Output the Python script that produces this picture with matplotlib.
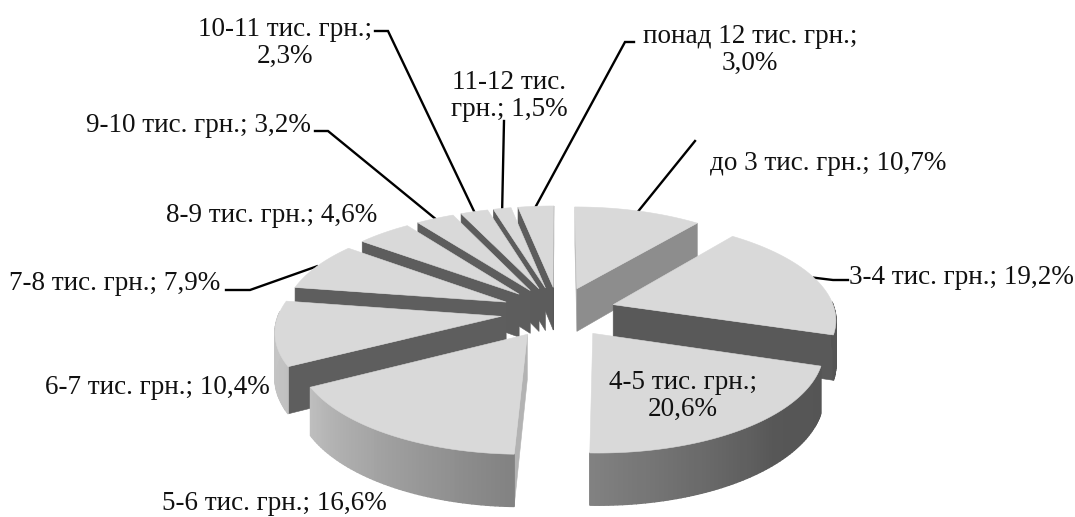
import numpy as np
import matplotlib
matplotlib.use("Agg")
import matplotlib.pyplot as plt
from matplotlib.patches import Polygon

plt.rcParams['font.family'] = ['Liberation Serif', 'DejaVu Serif']

# Income bands and their shares, per cent
bands = ["до 3 тис. грн.", "3-4 тис. грн.", "4-5 тис. грн.", "5-6 тис. грн.",
         "6-7 тис. грн.", "7-8 тис. грн.", "8-9 тис. грн.", "9-10 тис. грн.",
         "10-11 тис. грн.", "11-12 тис. грн.", "понад 12 тис. грн."]
shares = [10.7, 19.2, 20.6, 16.6, 10.4, 7.9, 4.6, 3.2, 2.3, 1.5, 3.0]

label_texts = ["до 3 тис. грн.; 10,7%", "3-4 тис. грн.; 19,2%", "4-5 тис. грн.;\n20,6%",
               "5-6 тис. грн.; 16,6%", "6-7 тис. грн.; 10,4%", "7-8 тис. грн.; 7,9%",
               "8-9 тис. грн.; 4,6%", "9-10 тис. грн.; 3,2%", "10-11 тис. грн.;\n2,3%",
               "11-12 тис.\nгрн.; 1,5%", "понад 12 тис. грн.;\n3,0%"]
label_xy = [(828, 163), (961, 277), (683, 396), (274, 503), (157, 387), (115, 284),
            (272, 215), (198, 126), (285, 43), (509, 96), (750, 50)]

# Elbow points of each leader, running from the label towards the slice rim
leaders = {0: [(695, 141)],
           1: [(848, 280), (833, 280)],
           5: [(226, 290), (250, 290)],
           7: [(315, 131), (328, 131)],
           8: [(375, 31), (388, 31)],
           9: [(504, 121)],
           10: [(634, 42), (625, 42)]}

# Perspective pie geometry, in figure pixels
CX, CY = 558.5, 312
RX, RY = 222, 98
PERSP = 0.13
HEIGHT = 44
EXPLODE = 0.26


def project(x, y, z=0.0):
    w = 1 + PERSP * np.asarray(y)
    return CX + RX * np.asarray(x) / w, CY - RY * np.asarray(y) / w + z * HEIGHT / w


def grey(v):
    return (v, v, v)


def rim_shade(deg):
    return grey(np.interp(deg, [95, 135, 180, 245, 285], [0.33, 0.34, 0.50, 0.76, 0.78]))


def cut_shade(deg, is_start):
    if is_start:
        return grey(np.interp(deg, [180, 200, 240, 360], [0.72, 0.5, 0.37, 0.36]))
    return grey(np.interp(deg, [30, 110], [0.58, 0.34]))


def face(ax, pts, color, z, lw=0.4):
    ax.add_patch(Polygon(pts, closed=True, fc=color, ec=color, lw=lw, zorder=z))


def signed_area(xs, ys):
    return 0.5 * np.sum(xs * np.roll(ys, -1) - np.roll(xs, -1) * ys)


fig = plt.figure(figsize=(10.75, 5.17), dpi=100)
ax = fig.add_axes([0, 0, 1, 1])
ax.set_xlim(0, 1075)
ax.set_ylim(517, 0)
ax.axis('off')

edges = np.concatenate([[0], np.cumsum(shares)]) * 360 / np.sum(shares)
mids = (edges[:-1] + edges[1:]) / 2
order = np.argsort(-np.cos(np.radians(mids)))

rim_mid_pts = {}
for rank, i in enumerate(order):
    base_z = 2 + rank
    a0, a1, mid = edges[i], edges[i + 1], np.radians(mids[i])
    ox, oy = EXPLODE * np.sin(mid), EXPLODE * np.cos(mid)
    deg = np.linspace(a0, a1, max(int(a1 - a0), 4))
    th = np.radians(deg)
    xs, ys = ox + np.sin(th), oy + np.cos(th)

    # straight cut faces, kept only when they turn towards the viewer
    for idx, is_start in ((0, True), (-1, False)):
        ex, ey = xs[idx], ys[idx]
        px = np.array([project(ox, oy)[0], project(ex, ey)[0],
                       project(ex, ey, 1)[0], project(ox, oy, 1)[0]], dtype=float)
        py = np.array([project(ox, oy)[1], project(ex, ey)[1],
                       project(ex, ey, 1)[1], project(ox, oy, 1)[1]], dtype=float)
        area = signed_area(px, py)
        if (area < 0) == is_start:
            face(ax, np.column_stack([px, py]), cut_shade(deg[idx], is_start), base_z)

    # outer wall, built from narrow shaded strips that overlap a little
    for k in range(len(th) - 1):
        if not 88 < deg[k] < 272:
            continue
        tx0, ty0 = project(xs[k], ys[k])
        tx1, ty1 = project(xs[k + 1], ys[k + 1])
        bx1, by1 = project(xs[k + 1], ys[k + 1], 1)
        bx0, by0 = project(xs[k], ys[k], 1)
        face(ax, [(tx0, ty0), (tx1, ty1), (bx1, by1), (bx0, by0)],
             rim_shade((deg[k] + deg[k + 1]) / 2), base_z + 0.1, lw=1.0)

    # top surface
    sx, sy = project(np.concatenate([[ox], xs]), np.concatenate([[oy], ys]))
    face(ax, np.column_stack([sx, sy]), grey(0.85), base_z + 0.2)
    rim_mid_pts[i] = project(ox + np.sin(mid), oy + np.cos(mid))

for i, elbows in leaders.items():
    pts = np.array(elbows + [rim_mid_pts[i]], dtype=float)
    ax.plot(pts[:, 0], pts[:, 1], color='black', lw=1.7, zorder=1.5,
            solid_joinstyle='miter')

for text, (x, y) in zip(label_texts, label_xy):
    ax.text(x, y, text, ha='center', va='center', fontsize=19.5,
            color='#111111', linespacing=1.13, zorder=50)

fig.savefig('out.png', dpi=100, facecolor='white')
